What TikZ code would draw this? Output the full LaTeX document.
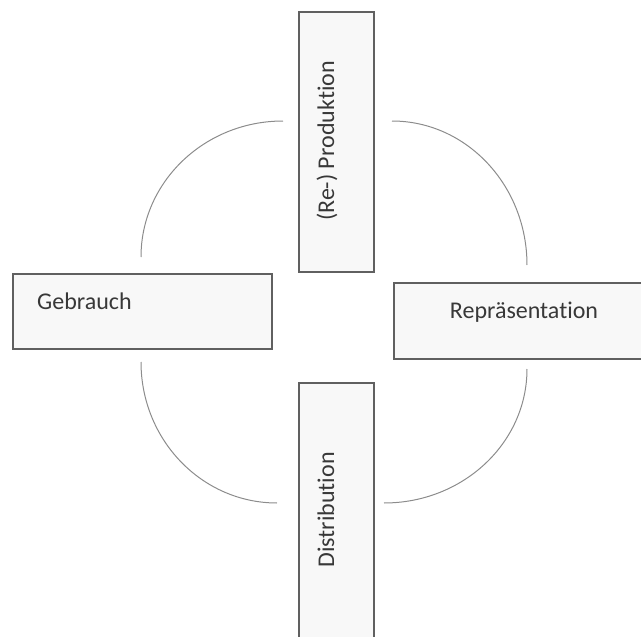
\documentclass[tikz,border=0pt]{standalone}
\usepackage{fontspec}
\setmainfont{Carlito}[Ligatures=NoCommon]
\definecolor{boxgray}{HTML}{606060}
\definecolor{boxfill}{HTML}{F8F8F8}
\definecolor{txtgray}{HTML}{383838}
\definecolor{arcgray}{HTML}{8C8C8C}
\begin{document}
\begin{tikzpicture}[x=1pt,y=-1pt,
  box/.style={draw=boxgray, fill=boxfill, line width=1.1pt, rectangle, inner sep=0pt},
  lbl/.style={font=\fontsize{24}{28}\selectfont, text=txtgray, inner sep=0pt},
  arcline/.style={draw=arcgray, line width=1pt}]
\useasboundingbox (0,0) rectangle (641,637);
\clip (0,0) rectangle (641,637);
% boxes
\node[box, minimum width=75pt, minimum height=260pt] (prod) at (336.5,142) {};
\node[box, minimum width=259pt, minimum height=75pt] (gebr) at (142.5,311.5) {};
\node[box, minimum width=259pt, minimum height=76pt] (repr) at (523.5,321) {};
\node[box, minimum width=75pt, minimum height=260pt] (dist) at (336.5,513) {};
% labels
\node[lbl, rotate=90, anchor=base] (prodt) at (334,141) {(Re-) Produktion};
\node[lbl, anchor=base west] (gebrt) at (37,309) {Gebrauch};
\node[lbl, anchor=base] (reprt) at (524,318) {Repräsentation};
\node[lbl, rotate=90, anchor=base] (distt) at (334,510) {Distribution};
% arc end points
\coordinate (tls) at (283,121);
\coordinate (tle) at (141,257);
\coordinate (trs) at (392,121);
\coordinate (tre) at (527,265);
\coordinate (bls) at (141,362);
\coordinate (ble) at (277,503);
\coordinate (brs) at (527,369);
\coordinate (bre) at (384,503);
% arcs
\draw[arcline] (tls) .. controls (204.6,121) and (141,181.9) .. (tle);
\draw[arcline] (trs) .. controls (466.6,121) and (527,185.5) .. (tre);
\draw[arcline] (bls) .. controls (141,439.9) and (201.9,503) .. (ble);
\draw[arcline] (brs) .. controls (527,443) and (463,503) .. (bre);
\end{tikzpicture}
\end{document}
